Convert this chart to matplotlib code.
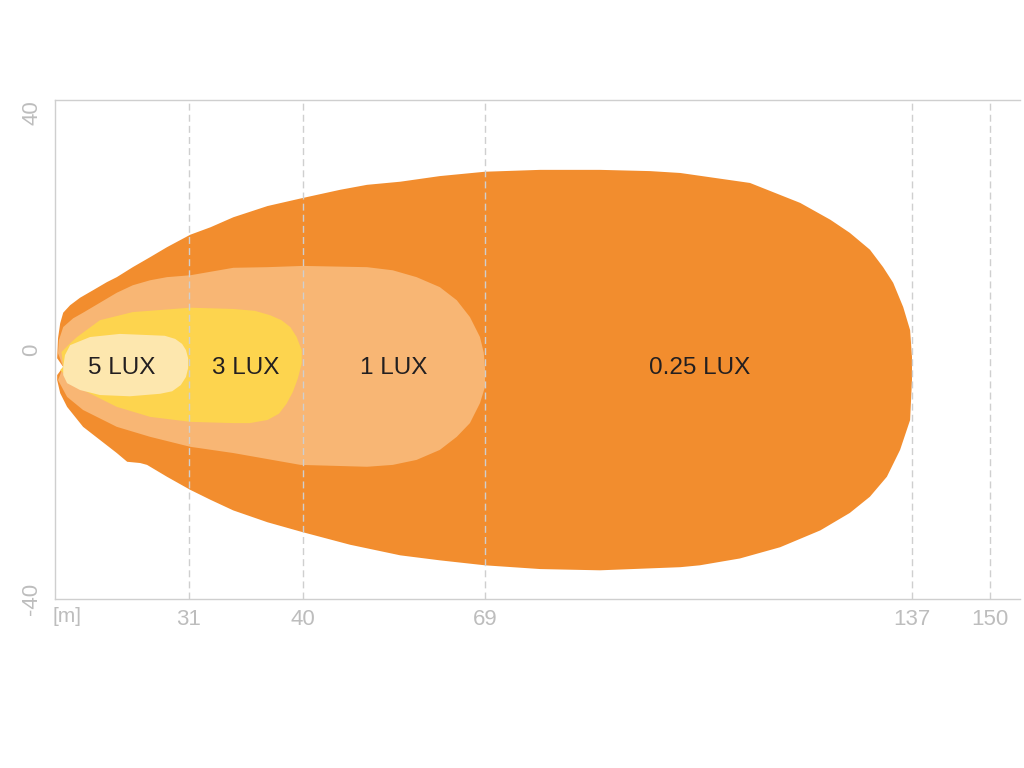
import numpy as np
import matplotlib
matplotlib.use("Agg")
import matplotlib.pyplot as plt

plt.rcParams['font.family'] = ['Liberation Sans', 'DejaVu Sans']

# ---- data (distance in metres, lateral spread in metres) ----
lux025_x = [1.9, 0.5, 0.7, 1.2, 1.9, 3.5, 5.8, 8.8, 12.0, 14.3, 18.0, 22.0, 25.9, 31.1, 32.7,
            34.5, 37.2, 40.0, 45.9, 50.2, 55.5, 61.8, 69.0, 77.8, 87.3, 95.3, 100.1, 111.2, 119.2,
            124.0, 127.1, 130.3, 132.4, 134.0, 135.6, 136.7, 137.0, 137.0, 136.7, 135.1, 133.0,
            130.3, 127.1, 122.4, 116.0, 109.6, 103.2, 100.1, 87.3, 77.8, 69.0, 61.8, 55.5, 47.5,
            40.0, 37.2, 34.5, 32.7, 31.1, 25.9, 21.3, 19.7, 16.7, 14.3, 10.4, 6.5, 2.8, 1.2, 0.5, 0.5]
lux025_y = [-2.8, -1.4, 1.8, 4.2, 5.9, 7.1, 8.3, 9.5, 10.8, 11.6, 13.2, 14.8, 16.4, 18.4, 19.6,
            21.2, 23.0, 24.3, 25.6, 26.4, 26.9, 27.8, 28.5, 28.8, 28.8, 28.6, 28.3, 26.7, 23.5,
            20.8, 18.7, 16.0, 13.2, 10.7, 6.8, 3.1, -1.2, -4.9, -11.3, -16.1, -20.4,
            -23.6, -26.2, -29.0, -31.7, -33.5, -34.6, -34.9, -35.4, -35.2, -34.6, -33.8, -33.0, -31.3,
            -29.3, -27.7, -25.8, -24.1, -22.5, -20.4, -18.5, -18.2, -18.0, -16.6, -14.5, -12.4, -9.2,
            -7.0, -4.9, -4.1]

lux1_x = [1.9, 0.7, 0.9, 1.9, 4.2, 6.5, 10.4, 14.3, 18.0, 22.0, 25.9, 31.1, 34.5, 37.2, 40.0,
          50.2, 54.3, 58.1, 61.8, 64.5, 66.6, 68.2, 68.8, 69.0, 69.0, 68.2, 66.6, 64.5, 61.8, 58.1,
          54.3, 50.2, 39.8, 34.5, 31.1, 22.0, 14.3, 6.5, 2.8, 0.7]
lux1_y = [-2.8, -0.6, 1.5, 3.6, 5.0, 5.9, 7.5, 9.1, 10.3, 11.1, 11.6, 11.9, 13.1, 13.2, 13.4,
          13.2, 12.7, 11.6, 10.0, 7.9, 5.2, 2.0, -0.5, -3.0, -6.0, -8.6, -11.8, -14.0, -16.1, -17.7,
          -18.5, -18.8, -18.5, -16.6, -15.6, -14.0, -12.4, -9.7, -7.6, -4.9]

lux3_x = [1.9, 1.5, 3.5, 5.1, 10.4, 18.0, 31.1, 34.5, 36.2, 37.4, 38.3, 39.0, 39.5, 39.9, 39.9,
          39.6, 39.2, 38.7, 38.1, 37.2, 35.8, 34.5, 31.1, 22.0, 14.3, 6.5, 2.8, 1.2]
lux3_y = [-2.8, -0.4, 1.0, 2.0, 4.7, 6.0, 6.7, 6.5, 6.2, 5.5, 4.7, 3.6, 2.0, -0.1, -2.2,
          -4.6, -6.8, -8.7, -10.3, -11.3, -11.8, -11.8, -11.6, -10.8, -9.2, -6.5, -4.4, -3.3]

lux5_x = [1.9, 2.3, 3.5, 8.1, 15.0, 22.0, 25.4, 27.8, 29.4, 30.3, 30.8, 30.8, 30.3, 29.1, 27.1,
          24.3, 17.3, 10.4, 5.8, 2.8, 1.9]
lux5_y = [-2.8, -0.9, 0.7, 2.0, 2.5, 2.3, 2.2, 1.7, 0.9, -0.1, -1.4, -3.0, -4.4, -5.7, -6.7,
          -7.1, -7.5, -7.3, -6.5, -5.4, -4.1]

zone_labels = ["0.25 LUX", "1 LUX", "3 LUX", "5 LUX"]
label_x = [103.1, 54.5, 35.5, 15.5]
label_y = [-3.0, -3.0, -3.0, -3.0]

x_ticks = [31, 40, 69, 137, 150]
x_ticklabels = ["31", "40", "69", "137", "150"]
y_ticks = [40, 0, -40]
y_ticklabels = ["40", "0", "-40"]

# non-uniform distance axis used by the diagram (metres -> drawing units)
scale_m = [-1000, 0, 31, 40, 69, 137, 150, 1000]
scale_u = [-4322, 0, 134, 248, 430, 857, 935, 6035]

def fwd(v):
    return np.interp(v, scale_m, scale_u)

def inv(v):
    return np.interp(v, scale_u, scale_m)

colors = ["#F28D2E", "#F8B674", "#FDD44E", "#FDE7AE"]
grid_c = "#CFCFCF"
tick_c = "#BDBDBD"

fig = plt.figure(figsize=(10.24, 7.68), dpi=100)
ax = fig.add_axes([55 / 1024, 169 / 768, 965 / 1024, 499 / 768])
ax.set_xscale('function', functions=(fwd, inv))
ax.set_xlim(0, 155)
ax.set_ylim(-40, 40)

shapes = [(lux025_x, lux025_y), (lux1_x, lux1_y), (lux3_x, lux3_y), (lux5_x, lux5_y)]
for i, (xs, ys) in enumerate(shapes):
    ax.fill(xs, ys, color=colors[i], linewidth=0, zorder=1 + i)

for xt in x_ticks:
    ax.axvline(xt, color=grid_c, linestyle=(0, (5, 3)), linewidth=1.0, zorder=6)

for t, x, y in zip(zone_labels, label_x, label_y):
    ax.text(x, y, t, ha='center', va='center', fontsize=17.5, color="#231F20", zorder=7)

ax.set_xticks(x_ticks)
ax.set_xticklabels(x_ticklabels)
ax.set_yticks(y_ticks)
ax.set_yticklabels(y_ticklabels, rotation=90)
ax.tick_params(axis='both', length=0, labelsize=16, labelcolor=tick_c)
ax.tick_params(axis='x', pad=7)
ax.tick_params(axis='y', pad=9)
ylabs = ax.get_yticklabels()
ylabs[0].set_va('top')
ylabs[1].set_va('center')
ylabs[2].set_va('center')

ax.annotate("[m]", xy=(0, 0), xycoords=ax.get_xaxis_transform(), xytext=(-2, -8),
            textcoords='offset pixels', ha='left', va='top', fontsize=15, color=tick_c)

for s in ['left', 'top', 'bottom']:
    ax.spines[s].set_color(grid_c)
    ax.spines[s].set_linewidth(1.0)
ax.spines['right'].set_visible(False)

fig.savefig("out.png", dpi=100, facecolor='white')
